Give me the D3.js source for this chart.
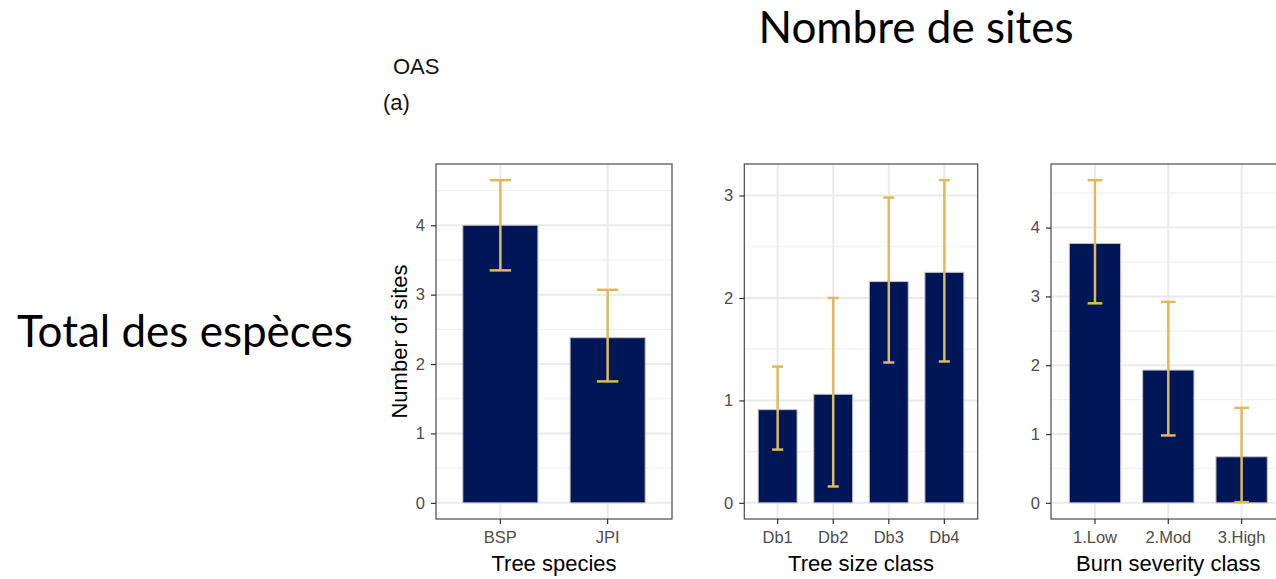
<!DOCTYPE html>
<html>
<head>
<meta charset="utf-8">
<script src="https://cdn.jsdelivr.net/npm/d3@7"></script>
<style>
  body { margin: 0; background: #fff; }
  svg { display: block; }
</style>
</head>
<body>
<div class="chart-container"></div>
<script>
// data
const speciesCats = ["BSP", "JPI"];
const speciesMean = [4.0, 2.38];
const speciesLow = [3.35, 1.75];
const speciesHigh = [4.65, 3.07];

const sizeCats = ["Db1", "Db2", "Db3", "Db4"];
const sizeMean = [0.91, 1.06, 2.16, 2.25];
const sizeLow = [0.52, 0.16, 1.37, 1.38];
const sizeHigh = [1.33, 2.0, 2.98, 3.15];

const burnCats = ["1.Low", "2.Mod", "3.High"];
const burnMean = [3.77, 1.93, 0.67];
const burnLow = [2.9, 0.98, 0.01];
const burnHigh = [4.69, 2.92, 1.38];

const speciesTicks = [0, 1, 2, 3, 4];
const sizeTicks = [0, 1, 2, 3];
const burnTicks = [0, 1, 2, 3, 4];

const w = 1276;
const h = 579;
const navy = "#001657";
const gold = "#DDBA5E";
const rFont = "'Liberation Sans', Arial, sans-serif";

const svg = d3.select(".chart-container")
    .append("svg")
    .attr("width", w)
    .attr("height", h);

// slide texts
svg.append("text")
    .attr("x", 916).attr("y", 43)
    .attr("text-anchor", "middle")
    .style("font-family", "Lato, 'Open Sans', sans-serif")
    .style("font-size", "44px")
    .attr("fill", "#000")
    .text("Nombre de sites");

svg.append("text")
    .attr("x", 17).attr("y", 347)
    .style("font-family", "Lato, 'Open Sans', sans-serif")
    .style("font-size", "44px")
    .attr("fill", "#000")
    .text("Total des espèces");

svg.append("text")
    .attr("x", 393).attr("y", 74)
    .style("font-family", rFont)
    .style("font-size", "22px")
    .attr("fill", "#111")
    .text("OAS");

svg.append("text")
    .attr("x", 383).attr("y", 110)
    .style("font-family", rFont)
    .style("font-size", "22px")
    .attr("fill", "#111")
    .text("(a)");

const panelTop = 164;
const panelBottom = 519;

const drawPanel = (cats, mean, low, high, ticks, left, right, title, yTitle) => {
    const maxV = d3.max(high);
    const pad = maxV * 0.05;
    const yScale = d3.scaleLinear()
        .domain([-pad, maxV + pad])
        .range([panelBottom, panelTop]);

    // ggplot style discrete axis: 0.6 unit expansion each side, bar width 0.7
    const unit = (right - left) / (cats.length + 0.2);
    const xScale = d3.scaleBand()
        .domain(cats)
        .range([left + 0.1 * unit, right - 0.1 * unit])
        .paddingInner(0.3)
        .paddingOuter(0.15);
    const mid = (d) => xScale(d) + xScale.bandwidth() / 2;

    const g = svg.append("g");

    // minor grid
    const minor = d3.range(0.5, maxV + pad, 1);
    g.selectAll(".minor")
        .data(minor)
        .enter()
        .append("line")
        .attr("x1", left).attr("x2", right)
        .attr("y1", (d) => yScale(d)).attr("y2", (d) => yScale(d))
        .attr("stroke", "#F2F2F2")
        .attr("stroke-width", 1.2);

    // major grid
    g.selectAll(".major")
        .data(ticks)
        .enter()
        .append("line")
        .attr("x1", left).attr("x2", right)
        .attr("y1", (d) => yScale(d)).attr("y2", (d) => yScale(d))
        .attr("stroke", "#EBEBEB")
        .attr("stroke-width", 2);

    g.selectAll(".vgrid")
        .data(cats)
        .enter()
        .append("line")
        .attr("x1", mid).attr("x2", mid)
        .attr("y1", panelTop).attr("y2", panelBottom)
        .attr("stroke", "#EBEBEB")
        .attr("stroke-width", 2);

    // bars
    g.selectAll(".bar")
        .data(cats)
        .enter()
        .append("rect")
        .attr("x", (d) => xScale(d))
        .attr("y", (d, i) => yScale(mean[i]))
        .attr("width", xScale.bandwidth())
        .attr("height", (d, i) => yScale(0) - yScale(mean[i]))
        .attr("fill", navy)
        .attr("stroke", "#C4C4C8")
        .attr("stroke-width", 1);

    // error bars
    const capHalf = xScale.bandwidth() * 0.2 / 0.7 / 2;
    cats.forEach((c, i) => {
        const cx = mid(c);
        g.append("line")
            .attr("x1", cx).attr("x2", cx)
            .attr("y1", yScale(low[i])).attr("y2", yScale(high[i]))
            .attr("stroke", gold).attr("stroke-width", 2.5);
        [low[i], high[i]].forEach((v) => {
            g.append("line")
                .attr("x1", cx - capHalf).attr("x2", cx + capHalf)
                .attr("y1", yScale(v)).attr("y2", yScale(v))
                .attr("stroke", gold).attr("stroke-width", 2.5);
        });
    });

    // border
    g.append("rect")
        .attr("x", left).attr("y", panelTop)
        .attr("width", right - left).attr("height", panelBottom - panelTop)
        .attr("fill", "none")
        .attr("stroke", "#4A4A4A")
        .attr("stroke-width", 1.2);

    const yAxis = d3.axisLeft(yScale)
        .tickValues(ticks)
        .tickFormat(d3.format("d"))
        .tickSize(5)
        .tickPadding(6);
    const ya = svg.append("g")
        .attr("transform", `translate(${left},0)`)
        .call(yAxis);
    ya.select(".domain").remove();
    ya.selectAll(".tick line").attr("stroke", "#333").attr("stroke-width", 1.2);
    ya.selectAll("text")
        .attr("fill", "#4D4D4D")
        .style("font-family", rFont)
        .style("font-size", "16.5px");

    const xAxis = d3.axisBottom(xScale).tickSize(5).tickPadding(7);
    const xa = svg.append("g")
        .attr("transform", `translate(0,${panelBottom})`)
        .call(xAxis);
    xa.select(".domain").remove();
    xa.selectAll(".tick line").attr("stroke", "#333").attr("stroke-width", 1.2);
    xa.selectAll("text")
        .attr("fill", "#4D4D4D")
        .style("font-family", rFont)
        .style("font-size", "16.5px");

    svg.append("text")
        .attr("x", (left + right) / 2)
        .attr("y", 571)
        .attr("text-anchor", "middle")
        .style("font-family", rFont)
        .style("font-size", "22px")
        .attr("fill", "#000")
        .text(title);

    if (yTitle) {
        svg.append("text")
            .attr("transform", `translate(407,${(panelTop + panelBottom) / 2}) rotate(-90)`)
            .attr("text-anchor", "middle")
            .style("font-family", rFont)
            .style("font-size", "22px")
            .attr("fill", "#000")
            .text(yTitle);
    }
};

drawPanel(speciesCats, speciesMean, speciesLow, speciesHigh, speciesTicks, 436, 672, "Tree species", "Number of sites");
drawPanel(sizeCats, sizeMean, sizeLow, sizeHigh, sizeTicks, 744.3, 977.7, "Tree size class", null);
// right edge of this panel runs past the cropped picture, as in the reference
drawPanel(burnCats, burnMean, burnLow, burnHigh, burnTicks, 1051, 1285.6, "Burn severity class", null);
</script>
</body>
</html>
